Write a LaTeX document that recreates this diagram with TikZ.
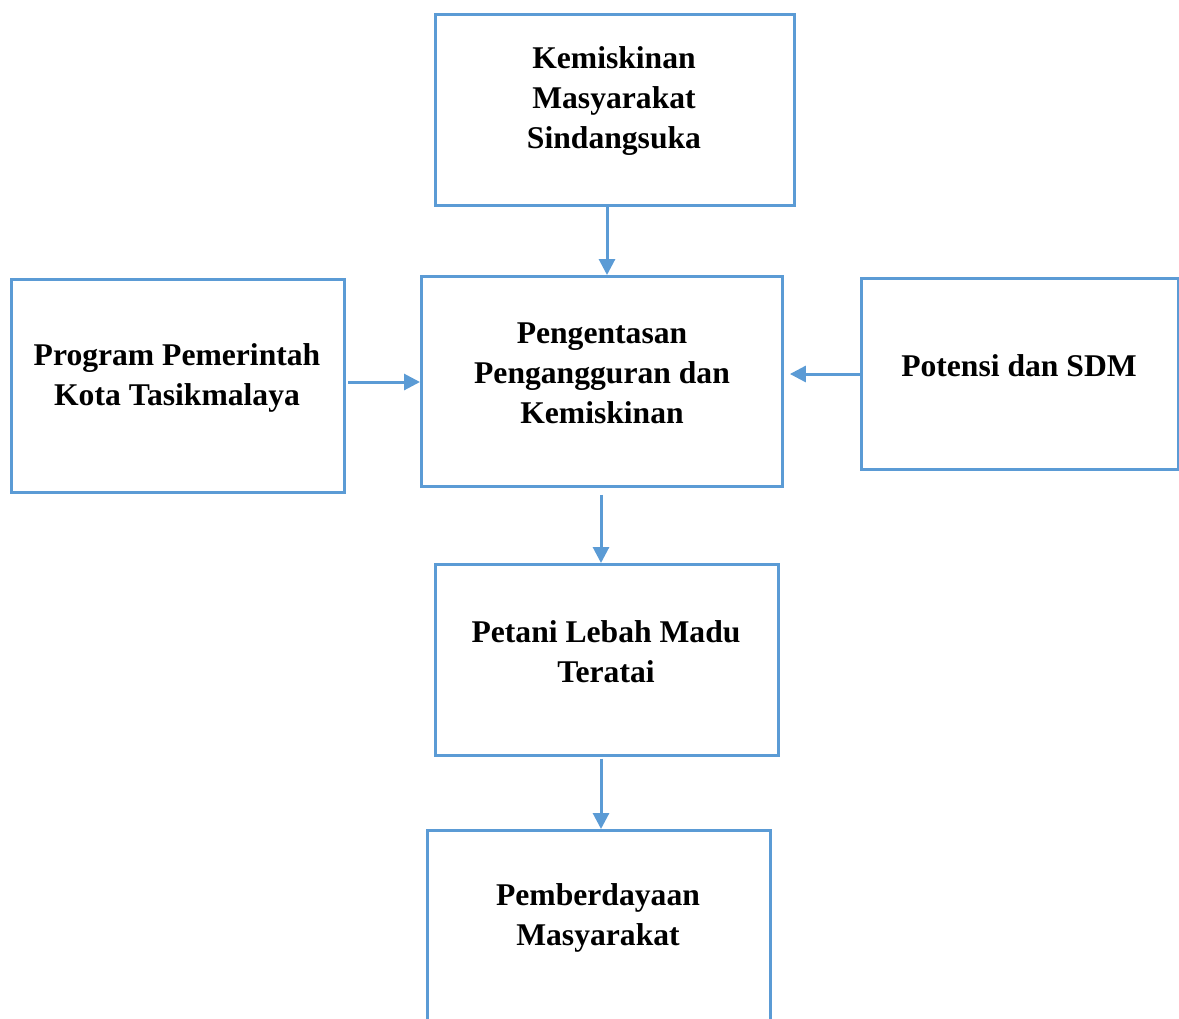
\documentclass[tikz,border=0pt]{standalone}
\usepackage{fontspec}
\setmainfont{Liberation Serif}
\usetikzlibrary{arrows.meta,positioning}
\definecolor{bl}{RGB}{91,155,213}
\begin{document}
\begin{tikzpicture}[x=0.02cm,y=-0.02cm,
  box/.style={draw=bl,line width=1.7pt,rectangle,inner sep=0pt,anchor=north west},
  txt/.style={align=center,font=\fontsize{18}{22.8}\selectfont\bfseries,inner sep=0pt},
  arr/.style={draw=bl,line width=1.7pt,-{Triangle[length=0.32cm,width=0.32cm]}}]
\clip (0,0) rectangle (1179,1018);
\node[box,minimum width=7.18cm,minimum height=3.82cm] (top) at (434,13) {};
\node[box,minimum width=6.66cm,minimum height=4.26cm] (left) at (10,278) {};
\node[box,minimum width=7.22cm,minimum height=4.2cm] (mid) at (420,275) {};
\node[box,minimum width=6.34cm,minimum height=3.82cm] (right) at (860,277) {};
\node[box,minimum width=6.86cm,minimum height=3.82cm] (pet) at (434,563) {};
\node[box,minimum width=6.86cm,minimum height=5cm] (bot) at (426,829) {};
\node[txt] (toptxt) at (614,101) {Kemiskinan\\Masyarakat\\Sindangsuka};
\node[txt] (lefttxt) at (177,378) {Program Pemerintah\\Kota Tasikmalaya};
\node[txt] (midtxt) at (602,373) {Pengentasan\\Pengangguran dan\\Kemiskinan};
\node[txt] (righttxt) at (1019,366) {Potensi dan SDM};
\node[txt] (pettxt) at (606,652) {Petani Lebah Madu\\Teratai};
\node[txt] (bottxt) at (598,918) {Pemberdayaan\\Masyarakat};
\coordinate (a1) at (607,0);
\coordinate (a2) at (0,382);
\coordinate (a3) at (0,374);
\coordinate (a4) at (601,0);
\draw[arr] (top.south -| a1) -- (mid.north -| a1);
\draw[arr,shorten <=1.2pt] (left.east |- a2) -- (mid.west |- a2);
\draw[arr,shorten >=3.4pt] (right.west |- a3) -- (mid.east |- a3);
\draw[arr,shorten <=4pt] (mid.south -| a4) -- (pet.north -| a4);
\draw[arr,shorten <=1pt] (pet.south -| a4) -- (bot.north -| a4);
\end{tikzpicture}
\end{document}
